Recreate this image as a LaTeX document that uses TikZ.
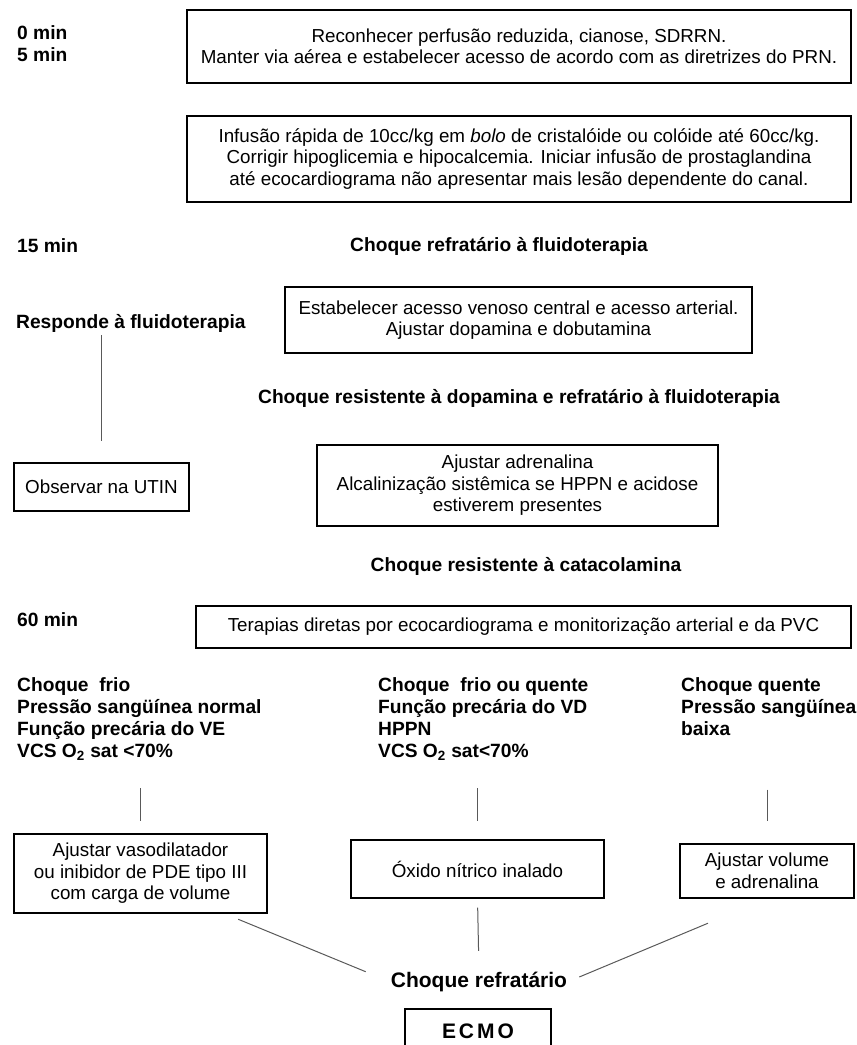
\documentclass[tikz,border=0pt]{standalone}
\usepackage{fontspec}
\setmainfont{Liberation Sans}
\usetikzlibrary{calc}
\tikzstyle{box}=[draw, line width=1.1pt, inner sep=0pt, align=center, font=\fontsize{18.8}{21.5}\selectfont]
\tikzstyle{head}=[inner sep=0pt, align=left, font=\bfseries\fontsize{19.2}{22}\selectfont]
\tikzstyle{link}=[draw=black!65, line width=1pt]

\begin{document}
\begin{tikzpicture}[x=1pt, y=-1pt]

\useasboundingbox (0,0) rectangle (857,1045);
\clip (0,0) rectangle (857,1045);

\node[head, anchor=west] (t0) at (17, 33) {0 min};
\node[head, anchor=west] (t5) at (17, 55) {5 min};
\node[box, minimum width=664, minimum height=73] (recon) at (519, 46.5) {Reconhecer perfusão reduzida, cianose, SDRRN.\\Manter via aérea e estabelecer acesso de acordo com as diretrizes do PRN.};
\node[box, minimum width=664, minimum height=86] (bolus) at (519, 159) {Infusão rápida de 10cc/kg em \textit{bolo} de cristalóide ou colóide até 60cc/kg.\\Corrigir hipoglicemia e hipocalcemia. Iniciar infusão de prostaglandina\\até ecocardiograma não apresentar mais lesão dependente do canal.};

\node[head, anchor=west] (t15) at (17, 246) {15 min};
\node[head] (refr) at (499, 246) {Choque refratário à fluidoterapia};
\node[head, anchor=west] (resp) at (16, 323) {Responde à fluidoterapia};
\node[box, minimum width=467, minimum height=66] (cvc) at (518.5, 320) {Estabelecer acesso venoso central e acesso arterial.\\Ajustar dopamina e dobutamina};

\node[head] (dopa) at (519, 398) {Choque resistente à dopamina e refratário à fluidoterapia};
\node[box, minimum width=175, minimum height=48] (utin) at (101.5, 487) {Observar na UTIN};
\node[box, minimum width=401, minimum height=81] (adre) at (517.5, 485.5) {Ajustar adrenalina\\Alcalinização sistêmica se HPPN e acidose\\estiverem presentes};

\node[head] (cate) at (526, 566) {Choque resistente à catacolamina};
\node[head, anchor=west] (t60) at (17, 620) {60 min};
\node[box, minimum width=655, minimum height=42] (eco) at (523.5, 627) {Terapias diretas por ecocardiograma e monitorização arterial e da PVC};

% tipos de choque
\node[head, anchor=north west] (frio) at (17, 677) {Choque~ frio\\Pressão sangüínea normal\\Função precária do VE\\VCS O\textsubscript{2} sat <70\%};
\node[head, anchor=north west] (misto) at (378, 677) {Choque~ frio ou quente\\Função precária do VD\\HPPN\\VCS O\textsubscript{2} sat<70\%};
\node[head, anchor=north west] (quente) at (681, 677) {Choque quente\\Pressão sangüínea\\baixa};

\node[box, minimum width=253, minimum height=79] (vaso) at (140.5, 873.5) {Ajustar vasodilatador\\ou inibidor de PDE tipo III\\com carga de volume};
\node[box, minimum width=253, minimum height=58] (no) at (477.5, 869) {Óxido nítrico inalado};
\node[box, minimum width=174, minimum height=54] (volu) at (767, 871) {Ajustar volume\\e adrenalina};

\node[head, font=\bfseries\fontsize{21}{24}\selectfont] (final) at (479, 982) {Choque refratário};
\node[box, font=\bfseries\fontsize{21}{24}\selectfont, minimum width=146, minimum height=44] (ecmo) at (478, 1031) {E\kern3pt C\kern3pt M\kern3pt O};

\draw[link, shorten <=3, shorten >=21] (resp.south -| utin.north) -- (utin.north);

\draw[link, shorten <=28, shorten >=12] (frio.south -| vaso.north) -- (vaso.north);
\draw[link, shorten <=28, shorten >=18] (misto.south -| no.north) -- (no.north);
\draw[link, shorten <=54, shorten >=22] (quente.south -| volu.north) -- (volu.north);

\draw[link, shorten <=9, shorten >=21] (no.south) -- (final.north);
\draw[link, shorten <=15, shorten >=27] ($(vaso.south)!0.66!(vaso.south east)$) -- (final.west);
\draw[link, shorten <=64, shorten >=13] (volu.south) -- (final.east);

\end{tikzpicture}
\end{document}
